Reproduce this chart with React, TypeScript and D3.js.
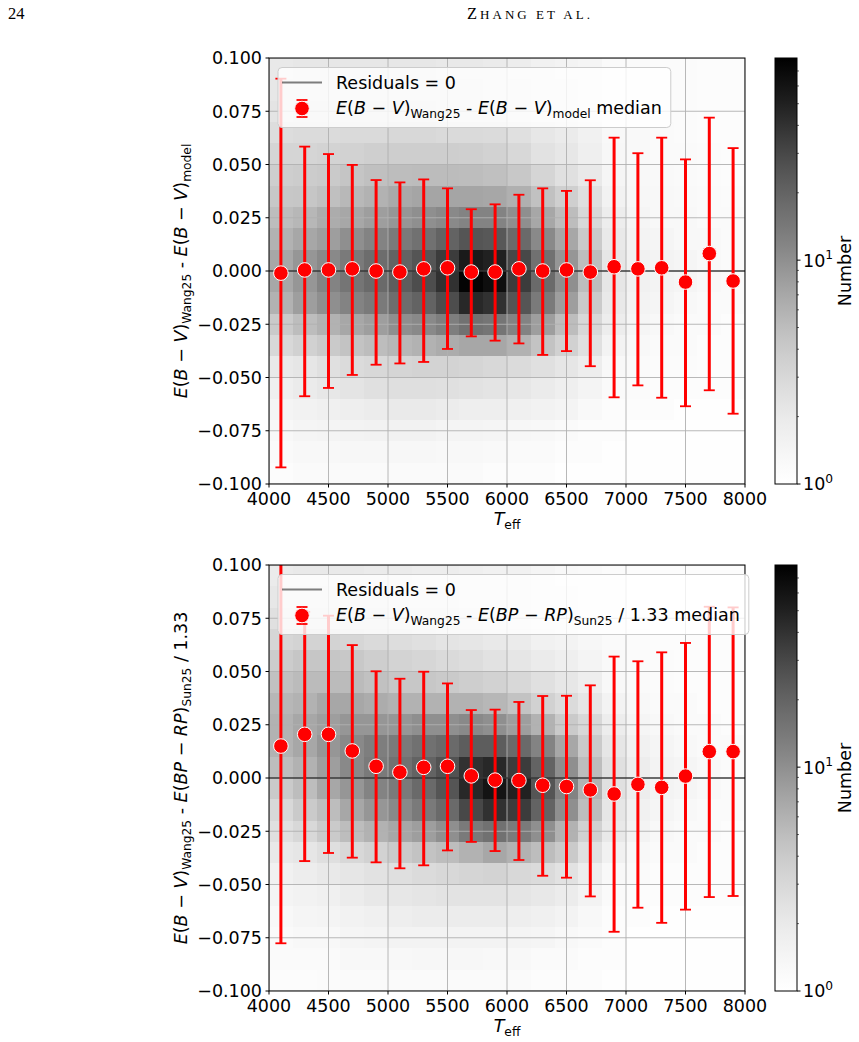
import { useEffect, useRef } from 'react';
import * as d3 from 'd3';

// Teff bin centres used for the running medians
const TEFF_CENTERS = [4100, 4300, 4500, 4700, 4900, 5100, 5300, 5500, 5700, 5900, 6100, 6300, 6500, 6700, 6900, 7100, 7300, 7500, 7700, 7900];

// E(B-V)_Wang25 - E(B-V)_model: median and error-bar ends
const MODEL_MEDIAN = [-0.001, 0.0005, 0.0005, 0.001, 0.0, -0.0005, 0.001, 0.0015, -0.0005, -0.0005, 0.001, 0.0, 0.0005, -0.0005, 0.002, 0.001, 0.0015, -0.0052, 0.0082, -0.0047];
const MODEL_LOW = [-0.0922, -0.0588, -0.0549, -0.0488, -0.044, -0.0434, -0.0427, -0.0366, -0.0307, -0.0327, -0.034, -0.0394, -0.0376, -0.0447, -0.0593, -0.0537, -0.0595, -0.0635, -0.056, -0.067];
const MODEL_HIGH = [0.0903, 0.0584, 0.0549, 0.0498, 0.0427, 0.0416, 0.043, 0.0388, 0.029, 0.0313, 0.0358, 0.0388, 0.0376, 0.0426, 0.0626, 0.0553, 0.0626, 0.0524, 0.072, 0.0577];

// E(B-V)_Wang25 - E(BP-RP)_Sun25 / 1.33: median and error-bar ends
const SUN_MEDIAN = [0.015, 0.0205, 0.0205, 0.0127, 0.0055, 0.0027, 0.005, 0.0055, 0.001, -0.001, -0.0012, -0.0034, -0.004, -0.0056, -0.0075, -0.003, -0.0044, 0.0009, 0.0124, 0.0124];
const SUN_LOW = [-0.0776, -0.039, -0.0352, -0.0374, -0.0396, -0.0424, -0.041, -0.034, -0.03, -0.0343, -0.0385, -0.0459, -0.0468, -0.0556, -0.0722, -0.0609, -0.068, -0.0618, -0.0559, -0.0554];
const SUN_HIGH = [0.112, 0.078, 0.0762, 0.0624, 0.0501, 0.0466, 0.0499, 0.0444, 0.0319, 0.0321, 0.0357, 0.0385, 0.0386, 0.0435, 0.057, 0.0548, 0.059, 0.0634, 0.0804, 0.0801];

const X_TICKS = [4000, 4500, 5000, 5500, 6000, 6500, 7000, 7500, 8000];
const Y_TICKS = [0.1, 0.075, 0.05, 0.025, 0, -0.025, -0.05, -0.075, -0.1];

// 2D histogram bin edges and counts (rows run from top to bottom)
const HIST_TEFF_EDGES = [4000, 4200, 4400, 4600, 4800, 5000, 5200, 5400, 5600, 5800, 6000, 6200, 6400, 6600, 6800, 7000, 7200, 7400, 7600, 7800, 8000];
const HIST_RES_EDGES = [0.1, 0.09, 0.08, 0.07, 0.06, 0.05, 0.04, 0.03, 0.02, 0.01, 0, -0.01, -0.02, -0.03, -0.04, -0.05, -0.06, -0.07, -0.08, -0.09, -0.1];

const MODEL_COUNTS = [
  [2.0, 2.1, 2.1, 2.1, 2.1, 2.1, 2.1, 2.0, 2.0, 1.9, 1.8, 1.6, 1.5, 1.4, 1.2, 1.2, 1.15, 1.15, 1.1, 1.1],
  [2.1, 2.2, 2.2, 2.2, 2.2, 2.2, 2.2, 2.1, 2.1, 2.0, 1.9, 1.7, 1.6, 1.4, 1.2, 1.2, 1.15, 1.15, 1.1, 1.1],
  [2.3, 2.4, 2.4, 2.4, 2.4, 2.4, 2.4, 2.3, 2.3, 2.2, 2.0, 1.8, 1.7, 1.5, 1.25, 1.2, 1.15, 1.15, 1.1, 1.1],
  [2.7, 2.8, 2.8, 2.9, 2.9, 3.0, 3.0, 2.9, 2.9, 2.8, 2.5, 2.1, 1.9, 1.6, 1.3, 1.25, 1.2, 1.15, 1.1, 1.1],
  [3.2, 3.2, 3.3, 3.4, 3.6, 3.7, 3.7, 3.7, 3.6, 3.4, 3.0, 2.4, 2.1, 1.7, 1.35, 1.25, 1.2, 1.2, 1.15, 1.1],
  [3.7, 3.8, 4.0, 4.4, 4.8, 5.0, 5.1, 5.1, 5.0, 4.8, 4.1, 3.2, 2.5, 2.0, 1.4, 1.3, 1.25, 1.2, 1.15, 1.1],
  [4.2, 4.3, 4.8, 5.4, 6.0, 6.8, 7.3, 7.3, 7.3, 7.0, 6.2, 4.7, 3.6, 2.6, 1.55, 1.35, 1.3, 1.25, 1.2, 1.15],
  [5.0, 5.5, 6.5, 7.0, 8.0, 9.0, 10, 11, 12, 12, 10, 7.0, 5.0, 3.0, 1.8, 1.4, 1.3, 1.3, 1.2, 1.2],
  [6.0, 7.0, 8.0, 10, 12, 14, 16, 20, 25, 24, 18, 11, 7.0, 4.0, 2.0, 1.5, 1.4, 1.3, 1.3, 1.2],
  [7.0, 9.0, 11, 14, 17, 20, 25, 35, 55, 50, 30, 16, 9.0, 5.0, 2.2, 1.6, 1.5, 1.4, 1.3, 1.2],
  [7.0, 9.0, 12, 15, 18, 22, 28, 40, 75, 65, 35, 18, 10, 5.0, 2.2, 1.6, 1.5, 1.4, 1.3, 1.2],
  [6.0, 8.0, 10, 12, 14, 17, 20, 28, 45, 40, 25, 14, 8.0, 4.0, 2.0, 1.5, 1.4, 1.3, 1.2, 1.2],
  [4.0, 5.0, 6.0, 7.0, 8.0, 10, 11, 13, 16, 15, 12, 8.0, 5.0, 3.0, 1.8, 1.4, 1.3, 1.2, 1.2, 1.1],
  [3.0, 3.5, 4.0, 4.5, 5.0, 5.5, 6.0, 6.5, 7.0, 7.0, 6.0, 4.5, 3.5, 2.5, 1.5, 1.3, 1.2, 1.2, 1.1, 1.1],
  [2.0, 2.2, 2.5, 2.8, 3.0, 3.2, 3.3, 3.3, 3.2, 3.0, 2.8, 2.5, 2.2, 1.8, 1.3, 1.2, 1.15, 1.15, 1.1, 1.1],
  [1.7, 1.9, 2.1, 2.3, 2.5, 2.6, 2.6, 2.5, 2.4, 2.3, 2.1, 1.9, 1.7, 1.45, 1.2, 1.15, 1.1, 1.1, 1.1, 1.1],
  [1.45, 1.55, 1.65, 1.75, 1.85, 1.95, 1.95, 1.85, 1.75, 1.75, 1.65, 1.55, 1.45, 1.25, 1.1, 1.1, 1.1, 1.05, 1.05, 1.05],
  [1.3, 1.4, 1.45, 1.5, 1.55, 1.55, 1.55, 1.45, 1.45, 1.4, 1.35, 1.3, 1.2, 1.1, 1.1, 1.05, 1.05, 1.05, 1.05, 1.05],
  [1.2, 1.3, 1.3, 1.35, 1.35, 1.35, 1.35, 1.3, 1.3, 1.25, 1.2, 1.2, 1.1, 1.1, 1.05, 1.05, 1.05, 1.05, 1.05, 1.05],
  [1.1, 1.2, 1.2, 1.2, 1.2, 1.2, 1.2, 1.2, 1.2, 1.1, 1.1, 1.1, 1.05, 1.05, 1.05, 1.05, 1.05, 1.05, 1.05, 1.05],
];

const SUN_COUNTS = [
  [1.9, 2.0, 2.0, 2.0, 1.9, 1.9, 1.8, 1.8, 1.7, 1.6, 1.6, 1.4, 1.3, 1.25, 1.15, 1.1, 1.1, 1.1, 1.1, 1.1],
  [2.1, 2.2, 2.2, 2.2, 2.1, 2.0, 1.9, 1.9, 1.8, 1.7, 1.6, 1.5, 1.4, 1.25, 1.15, 1.1, 1.1, 1.1, 1.1, 1.1],
  [2.5, 2.6, 2.6, 2.5, 2.4, 2.3, 2.2, 2.1, 2.0, 1.8, 1.7, 1.5, 1.4, 1.3, 1.15, 1.1, 1.1, 1.1, 1.1, 1.1],
  [3.1, 3.3, 3.3, 3.1, 2.9, 2.7, 2.5, 2.3, 2.2, 2.0, 1.9, 1.6, 1.5, 1.35, 1.2, 1.15, 1.1, 1.1, 1.1, 1.1],
  [3.8, 4.3, 4.3, 4.1, 3.7, 3.3, 3.1, 2.9, 2.7, 2.4, 2.2, 1.9, 1.7, 1.45, 1.25, 1.15, 1.15, 1.1, 1.1, 1.1],
  [4.7, 5.2, 5.2, 5.2, 4.7, 4.2, 4.2, 4.0, 3.7, 3.4, 3.0, 2.5, 2.1, 1.75, 1.3, 1.2, 1.15, 1.1, 1.1, 1.1],
  [5.5, 6.0, 7.0, 7.0, 6.5, 6.0, 6.0, 6.0, 6.0, 5.5, 4.5, 3.5, 2.8, 2.2, 1.5, 1.3, 1.2, 1.2, 1.1, 1.1],
  [6.0, 7.0, 8.0, 9.0, 9.0, 9.0, 10, 10, 11, 10, 8.0, 6.0, 4.0, 3.0, 1.8, 1.4, 1.3, 1.2, 1.2, 1.1],
  [6.0, 7.0, 9.0, 11, 13, 14, 16, 18, 22, 22, 18, 12, 7.0, 4.0, 2.2, 1.6, 1.4, 1.3, 1.2, 1.2],
  [5.0, 6.0, 8.0, 11, 14, 16, 20, 26, 40, 45, 35, 20, 10, 5.0, 2.5, 1.8, 1.5, 1.4, 1.3, 1.2],
  [4.0, 5.0, 7.0, 9.0, 12, 14, 18, 25, 45, 60, 50, 25, 12, 6.0, 2.5, 1.8, 1.5, 1.4, 1.3, 1.2],
  [3.0, 4.0, 5.0, 7.0, 9.0, 11, 14, 18, 30, 40, 35, 20, 10, 5.0, 2.2, 1.6, 1.4, 1.3, 1.2, 1.2],
  [2.5, 3.0, 4.0, 5.0, 6.0, 7.0, 8.0, 10, 14, 16, 14, 10, 6.0, 3.5, 2.0, 1.5, 1.3, 1.2, 1.2, 1.1],
  [2.0, 2.2, 2.6, 3.0, 3.4, 4.0, 4.5, 5.0, 6.0, 7.0, 6.0, 5.0, 4.0, 2.5, 1.6, 1.3, 1.2, 1.2, 1.1, 1.1],
  [1.6, 1.8, 2.0, 2.2, 2.4, 2.6, 2.8, 3.0, 3.2, 3.3, 3.0, 2.8, 2.4, 1.8, 1.3, 1.2, 1.1, 1.1, 1.1, 1.1],
  [1.45, 1.55, 1.65, 1.85, 2.05, 2.15, 2.25, 2.35, 2.35, 2.35, 2.25, 2.05, 1.85, 1.5, 1.2, 1.1, 1.1, 1.1, 1.1, 1.1],
  [1.3, 1.4, 1.45, 1.55, 1.65, 1.75, 1.85, 1.85, 1.85, 1.85, 1.75, 1.65, 1.5, 1.3, 1.1, 1.1, 1.05, 1.05, 1.05, 1.05],
  [1.2, 1.3, 1.3, 1.4, 1.45, 1.5, 1.5, 1.5, 1.5, 1.5, 1.45, 1.4, 1.3, 1.2, 1.1, 1.05, 1.05, 1.05, 1.05, 1.05],
  [1.2, 1.2, 1.2, 1.3, 1.3, 1.3, 1.35, 1.35, 1.35, 1.3, 1.3, 1.2, 1.2, 1.1, 1.1, 1.05, 1.05, 1.05, 1.05, 1.05],
  [1.1, 1.1, 1.15, 1.2, 1.2, 1.2, 1.2, 1.2, 1.2, 1.2, 1.2, 1.1, 1.1, 1.1, 1.05, 1.05, 1.05, 1.05, 1.05, 1.05],
];

// colorbar range (LogNorm)
const COUNT_MIN = 1;
const COUNT_MAX = 80;
const CBAR_MAJOR = [1, 10];
const CBAR_MINOR = [2, 3, 4, 5, 6, 7, 8, 9, 20, 30, 40, 50, 60, 70];

type Seg = { t: string; i?: boolean; sub?: boolean; sup?: boolean };

const MODEL_LABEL: Seg[] = [
  { t: 'E', i: true }, { t: '(' }, { t: 'B', i: true }, { t: ' − ' }, { t: 'V', i: true }, { t: ')' }, { t: 'Wang25', sub: true },
  { t: ' - ' },
  { t: 'E', i: true }, { t: '(' }, { t: 'B', i: true }, { t: ' − ' }, { t: 'V', i: true }, { t: ')' }, { t: 'model', sub: true },
];
const SUN_LABEL: Seg[] = [
  { t: 'E', i: true }, { t: '(' }, { t: 'B', i: true }, { t: ' − ' }, { t: 'V', i: true }, { t: ')' }, { t: 'Wang25', sub: true },
  { t: ' - ' },
  { t: 'E', i: true }, { t: '(' }, { t: 'BP', i: true }, { t: ' − ' }, { t: 'RP', i: true }, { t: ')' }, { t: 'Sun25', sub: true },
  { t: ' / 1.33' },
];
const TEFF_LABEL: Seg[] = [{ t: 'T', i: true }, { t: 'eff', sub: true }];

const FONT = "'DejaVu Sans', sans-serif";
const FS = 17.5;
const W = 859;
const H = 1042;
const LEFT = 269;
const RIGHT = 745;
const PANEL_H = 426;
const CBAR_X = 775;
const CBAR_W = 22;

function rich(text: any, segs: Seg[], size: number) {
  let shift = 0;
  segs.forEach((s) => {
    const target = s.sub ? size * 0.22 : s.sup ? -size * 0.42 : 0;
    text
      .append('tspan')
      .attr('dy', target - shift)
      .style('font-size', `${s.sub || s.sup ? size * 0.7 : size}px`)
      .style('font-style', s.i ? 'italic' : 'normal')
      .text(s.t);
    shift = target;
  });
}

function drawPanel(
  svg: any,
  idx: number,
  top: number,
  counts: number[][],
  median: number[],
  low: number[],
  high: number[],
  yLabel: Seg[],
  legendLabel: Seg[]
) {
  const x = d3.scaleLinear().domain([4000, 8000]).range([LEFT, RIGHT]);
  const y = d3.scaleLinear().domain([-0.1, 0.1]).range([top + PANEL_H, top]);
  const norm = d3.scaleLog().domain([COUNT_MIN, COUNT_MAX]).range([0, 1]).clamp(true);

  const clipId = `clip-${idx}`;
  svg
    .append('clipPath')
    .attr('id', clipId)
    .append('rect')
    .attr('x', LEFT)
    .attr('y', top)
    .attr('width', RIGHT - LEFT)
    .attr('height', PANEL_H);

  const plot = svg.append('g').attr('clip-path', `url(#${clipId})`);

  // 2D histogram
  const cells = counts.flatMap((row, ri) =>
    row.map((c, ci) => ({ ri, ci, c })).filter((d) => d.c > COUNT_MIN)
  );
  plot
    .append('g')
    .attr('shape-rendering', 'crispEdges')
    .selectAll('rect')
    .data(cells)
    .enter()
    .append('rect')
    .attr('x', (d: any) => x(HIST_TEFF_EDGES[d.ci]))
    .attr('width', (d: any) => x(HIST_TEFF_EDGES[d.ci + 1]) - x(HIST_TEFF_EDGES[d.ci]))
    .attr('y', (d: any) => y(HIST_RES_EDGES[d.ri]))
    .attr('height', (d: any) => y(HIST_RES_EDGES[d.ri + 1]) - y(HIST_RES_EDGES[d.ri]))
    .attr('fill', (d: any) => d3.interpolateGreys(norm(d.c)));

  // Grid
  const grid = plot.append('g').attr('stroke', '#b0b0b0').attr('stroke-width', 0.9);
  X_TICKS.forEach((t) => {
    grid.append('line').attr('x1', x(t)).attr('x2', x(t)).attr('y1', top).attr('y2', top + PANEL_H);
  });
  Y_TICKS.forEach((t) => {
    grid.append('line').attr('x1', LEFT).attr('x2', RIGHT).attr('y1', y(t)).attr('y2', y(t));
  });

  // Residuals = 0
  plot
    .append('line')
    .attr('x1', LEFT)
    .attr('x2', RIGHT)
    .attr('y1', y(0))
    .attr('y2', y(0))
    .attr('stroke', '#000')
    .attr('stroke-opacity', 0.5)
    .attr('stroke-width', 2);

  // Error bars
  const bars = TEFF_CENTERS.map((t, i) => ({ t, m: median[i], lo: low[i], hi: high[i] }));
  const eb = plot.append('g').attr('stroke', '#ff0000');
  eb.selectAll('.stem')
    .data(bars)
    .enter()
    .append('line')
    .attr('x1', (d: any) => x(d.t))
    .attr('x2', (d: any) => x(d.t))
    .attr('y1', (d: any) => y(d.lo))
    .attr('y2', (d: any) => y(d.hi))
    .attr('stroke-width', 3);
  ['lo', 'hi'].forEach((k) => {
    eb.selectAll(`.cap-${k}`)
      .data(bars)
      .enter()
      .append('line')
      .attr('x1', (d: any) => x(d.t) - 5.5)
      .attr('x2', (d: any) => x(d.t) + 5.5)
      .attr('y1', (d: any) => y(d[k]))
      .attr('y2', (d: any) => y(d[k]))
      .attr('stroke-width', 1.8);
  });
  plot
    .append('g')
    .selectAll('circle')
    .data(bars)
    .enter()
    .append('circle')
    .attr('cx', (d: any) => x(d.t))
    .attr('cy', (d: any) => y(d.m))
    .attr('r', 7.3)
    .attr('fill', '#ff0000')
    .attr('stroke', '#ffffff')
    .attr('stroke-width', 1);

  // Frame and ticks
  svg
    .append('rect')
    .attr('x', LEFT)
    .attr('y', top)
    .attr('width', RIGHT - LEFT)
    .attr('height', PANEL_H)
    .attr('fill', 'none')
    .attr('stroke', '#000')
    .attr('stroke-width', 1);

  const fmt = d3.format('.3f');
  Y_TICKS.forEach((t) => {
    svg.append('line').attr('x1', LEFT - 3.5).attr('x2', LEFT).attr('y1', y(t)).attr('y2', y(t)).attr('stroke', '#000');
    svg
      .append('text')
      .attr('x', LEFT - 7)
      .attr('y', y(t) + 6.4)
      .attr('text-anchor', 'end')
      .style('font-family', FONT)
      .style('font-size', `${FS}px`)
      .text(fmt(t));
  });
  X_TICKS.forEach((t) => {
    svg.append('line').attr('x1', x(t)).attr('x2', x(t)).attr('y1', top + PANEL_H).attr('y2', top + PANEL_H + 3.5).attr('stroke', '#000');
    svg
      .append('text')
      .attr('x', x(t))
      .attr('y', top + PANEL_H + 21)
      .attr('text-anchor', 'middle')
      .style('font-family', FONT)
      .style('font-size', `${FS}px`)
      .text(t);
  });

  // Axis labels
  rich(
    svg
      .append('text')
      .attr('x', (LEFT + RIGHT) / 2)
      .attr('y', top + PANEL_H + 41)
      .attr('text-anchor', 'middle')
      .style('font-family', FONT)
      .style('white-space', 'pre'),
    TEFF_LABEL,
    FS
  );
  rich(
    svg
      .append('text')
      .attr('transform', `translate(187, ${top + PANEL_H / 2}) rotate(-90)`)
      .attr('text-anchor', 'middle')
      .style('font-family', FONT)
      .style('white-space', 'pre'),
    yLabel,
    FS
  );

  // Legend
  const lg = svg.append('g');
  const box = lg
    .append('rect')
    .attr('x', 278)
    .attr('y', top + 9.5)
    .attr('height', 60)
    .attr('rx', 4)
    .attr('fill', '#ffffff')
    .attr('fill-opacity', 0.8)
    .attr('stroke', '#cccccc')
    .attr('stroke-width', 1);
  lg.append('line')
    .attr('x1', 282)
    .attr('x2', 322)
    .attr('y1', top + 24.5)
    .attr('y2', top + 24.5)
    .attr('stroke', '#000')
    .attr('stroke-opacity', 0.5)
    .attr('stroke-width', 2);
  lg.append('text')
    .attr('x', 336)
    .attr('y', top + 31)
    .style('font-family', FONT)
    .style('font-size', `${FS}px`)
    .text('Residuals = 0');
  const my = top + 50.5;
  lg.append('line').attr('x1', 302).attr('x2', 302).attr('y1', my - 8.5).attr('y2', my + 8.5).attr('stroke', '#ff0000').attr('stroke-width', 3);
  [my - 8.5, my + 8.5].forEach((cy) => {
    lg.append('line').attr('x1', 296.5).attr('x2', 307.5).attr('y1', cy).attr('y2', cy).attr('stroke', '#ff0000').attr('stroke-width', 1.8);
  });
  lg.append('circle').attr('cx', 302).attr('cy', my).attr('r', 7.3).attr('fill', '#ff0000').attr('stroke', '#fff').attr('stroke-width', 1);
  const entry = lg
    .append('text')
    .attr('x', 336)
    .attr('y', top + 56)
    .style('font-family', FONT)
    .style('white-space', 'pre');
  rich(entry, [...legendLabel, { t: ' median' }], FS);
  const textEnd = 336 + (entry.node() as SVGTextElement).getComputedTextLength();
  box.attr('width', textEnd + 9 - 278);

  // Colorbar
  const cy = d3.scaleLog().domain([COUNT_MIN, COUNT_MAX]).range([top + PANEL_H, top]);
  const gradId = `cbar-${idx}`;
  const grad = svg
    .append('linearGradient')
    .attr('id', gradId)
    .attr('x1', 0)
    .attr('y1', 1)
    .attr('x2', 0)
    .attr('y2', 0);
  d3.range(0, 1.0001, 0.05).forEach((s) => {
    grad.append('stop').attr('offset', s).attr('stop-color', d3.interpolateGreys(s));
  });
  svg
    .append('rect')
    .attr('x', CBAR_X)
    .attr('y', top)
    .attr('width', CBAR_W)
    .attr('height', PANEL_H)
    .attr('fill', `url(#${gradId})`)
    .attr('stroke', '#000')
    .attr('stroke-width', 1);
  CBAR_MINOR.forEach((v) => {
    svg.append('line').attr('x1', CBAR_X + CBAR_W).attr('x2', CBAR_X + CBAR_W + 2).attr('y1', cy(v)).attr('y2', cy(v)).attr('stroke', '#000').attr('stroke-width', 0.6);
  });
  CBAR_MAJOR.forEach((v) => {
    svg.append('line').attr('x1', CBAR_X + CBAR_W).attr('x2', CBAR_X + CBAR_W + 3.5).attr('y1', cy(v)).attr('y2', cy(v)).attr('stroke', '#000');
    rich(
      svg
        .append('text')
        .attr('x', CBAR_X + CBAR_W + 6)
        .attr('y', cy(v) + 6.4)
        .style('font-family', FONT),
      [{ t: '10' }, { t: String(Math.round(Math.log10(v))), sup: true }],
      FS
    );
  });
  svg
    .append('text')
    .attr('transform', `translate(851, ${top + PANEL_H / 2}) rotate(-90)`)
    .attr('text-anchor', 'middle')
    .style('font-family', FONT)
    .style('font-size', `${FS}px`)
    .text('Number');
}

function Figure() {
  const svgRef = useRef<SVGSVGElement>(null);

  useEffect(() => {
    if (!svgRef.current) return;
    d3.select(svgRef.current).selectAll('*').remove();
    const svg = d3.select(svgRef.current);

    svg.append('rect').attr('width', W).attr('height', H).attr('fill', '#fff');

    // Running header
    const serif = "'Liberation Serif', 'DejaVu Serif', serif";
    svg.append('text').attr('x', 8).attr('y', 19).style('font-family', serif).style('font-size', '16.5px').text('24');
    const head = svg
      .append('text')
      .attr('x', 467)
      .attr('y', 19)
      .attr('textLength', 123)
      .attr('lengthAdjust', 'spacing')
      .style('font-family', serif);
    head.append('tspan').style('font-size', '16.5px').text('Z');
    head.append('tspan').style('font-size', '13px').text('HANG ET AL.');

    drawPanel(svg, 0, 58, MODEL_COUNTS, MODEL_MEDIAN, MODEL_LOW, MODEL_HIGH, MODEL_LABEL, MODEL_LABEL);
    drawPanel(svg, 1, 565, SUN_COUNTS, SUN_MEDIAN, SUN_LOW, SUN_HIGH, SUN_LABEL, SUN_LABEL);
  }, []);

  return <svg ref={svgRef} width={W} height={H} style={{ position: 'absolute', left: 0, top: 0, display: 'block' }} />;
}

export default function App() {
  return <Figure />;
}
